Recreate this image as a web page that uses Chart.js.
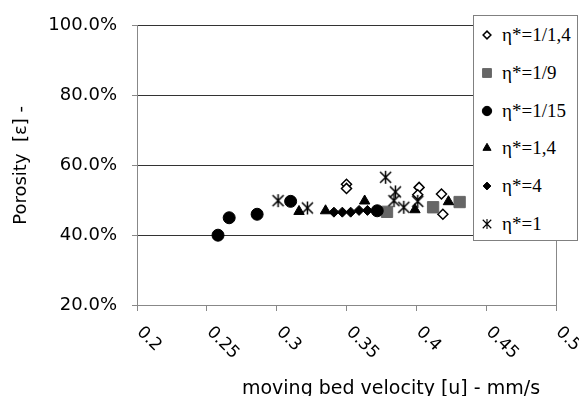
<!DOCTYPE html>
<html>
<head>
<meta charset="utf-8">
<script src="https://cdn.jsdelivr.net/npm/chart.js@4.4.1/dist/chart.umd.min.js"></script>
<style>
  html, body { margin: 0; padding: 0; background: #fff; }
  #wrap { position: relative; width: 579px; height: 396px; }
  #legend {
    position: absolute; left: 473px; top: 15px; width: 103px; height: 224px;
    border: 1px solid #808080; background: #fff; color: #000;
    font-family: "Liberation Serif", "Times New Roman", serif; font-size: 19px;
  }
  .row { position: absolute; left: 0; width: 103px; height: 22px; line-height: 22px; white-space: nowrap; }
  .row canvas { position: absolute; left: 4px; top: 2px; }
  .row span { position: absolute; left: 28px; top: 0; }
</style>
</head>
<body>
<div id="wrap">
  <canvas id="chart" width="579" height="396"></canvas>
  <div id="legend"></div>
</div>
<script>
// series names (legend) and axis texts
const seriesNames = ['η*=1/1,4', 'η*=1/9', 'η*=1/15', 'η*=1,4', 'η*=4', 'η*=1'];
const xTickLabels = ['0.2', '0.25', '0.3', '0.35', '0.4', '0.45', '0.5'];
const yTickLabels = ['20.0%', '40.0%', '60.0%', '80.0%', '100.0%'];
const xTitle = 'moving bed velocity [u] - mm/s';
const yTitle = 'Porosity  [ε] -';

// moving bed velocity u [mm/s] and porosity [%]
const velA = [0.350, 0.350, 0.402, 0.401, 0.418, 0.419];
const porA = [54.6, 53.4, 53.7, 51.6, 51.8, 46.0];
const velB = [0.379, 0.412, 0.431];
const porB = [46.7, 48.0, 49.5];
const velC = [0.258, 0.266, 0.286, 0.310, 0.372];
const porC = [40.0, 45.0, 46.0, 49.7, 47.0];
const velD = [0.316, 0.335, 0.363, 0.399, 0.423];
const porD = [46.8, 47.0, 49.8, 47.3, 49.6];
const velE = [0.341, 0.347, 0.353, 0.359, 0.365];
const porE = [46.6, 46.6, 46.6, 47.1, 47.1];
const velF = [0.301, 0.322, 0.378, 0.385, 0.384, 0.391, 0.401];
const porF = [49.9, 47.8, 56.6, 52.4, 49.9, 48.0, 49.7];

const pts = (vel, por) => vel.map((u, i) => ({ x: u, y: por[i] }));

// asterisk marker (X + vertical bar), as in the original
function makeStar(size, lw) {
  const c = document.createElement('canvas');
  c.width = size; c.height = size;
  const g = c.getContext('2d');
  const m = size / 2, r = size / 2 - 1;
  g.strokeStyle = '#000';
  g.lineWidth = lw;
  g.beginPath();
  g.moveTo(m, m - r); g.lineTo(m, m + r);
  g.moveTo(m - r * 0.85, m - r * 0.85); g.lineTo(m + r * 0.85, m + r * 0.85);
  g.moveTo(m + r * 0.85, m - r * 0.85); g.lineTo(m - r * 0.85, m + r * 0.85);
  g.stroke();
  return c;
}
const starBig = makeStar(15, 1.5);
const starSmall = makeStar(12, 1.1);

const styles = [
  { pointStyle: 'rectRot', pointRadius: 5, backgroundColor: '#fff', borderColor: '#000', borderWidth: 1.5 },
  { pointStyle: 'rect', pointRadius: 8, backgroundColor: '#666', borderColor: '#666', borderWidth: 1 },
  { pointStyle: 'circle', pointRadius: 6, backgroundColor: '#000', borderColor: '#000', borderWidth: 1 },
  { pointStyle: 'triangle', pointRadius: 6, backgroundColor: '#000', borderColor: '#000', borderWidth: 1 },
  { pointStyle: 'rectRot', pointRadius: 5, backgroundColor: '#000', borderColor: '#000', borderWidth: 1 },
  { pointStyle: starBig, pointRadius: 7, backgroundColor: '#000', borderColor: '#000', borderWidth: 1 }
];
const series = [pts(velA, porA), pts(velB, porB), pts(velC, porC), pts(velD, porD), pts(velE, porE), pts(velF, porF)];

const datasets = series.map((d, i) => Object.assign({
  label: seriesNames[i],
  data: d,
  order: 10 - i,          // later series drawn on top, like the original
  pointHoverRadius: styles[i].pointRadius
}, styles[i]));

// plot frame + rotated x labels + x title
const extras = {
  id: 'extras',
  beforeDatasetsDraw(chart) {
    const { ctx, chartArea: a } = chart;
    ctx.save();
    ctx.strokeStyle = '#888';
    ctx.lineWidth = 1;
    ctx.beginPath();
    ctx.moveTo(Math.round(a.right) + 0.5, a.top);
    ctx.lineTo(Math.round(a.right) + 0.5, a.bottom);
    ctx.stroke();
    ctx.restore();
  },
  afterDraw(chart) {
    const { ctx } = chart;
    const xs = chart.scales.x;
    ctx.save();
    ctx.fillStyle = '#000';
    ctx.font = '17px "DejaVu Sans"';
    ctx.textAlign = 'left';
    ctx.textBaseline = 'middle';
    xs.ticks.forEach((t, i) => {
      const px = xs.getPixelForTick(i);
      ctx.save();
      ctx.translate(px + 2.5, xs.top + 24.5);
      ctx.rotate(Math.PI / 4);
      ctx.fillText(xTickLabels[i], 0, 0);
      ctx.restore();
    });
    ctx.font = '19px "DejaVu Sans"';
    ctx.textAlign = 'center';
    ctx.textBaseline = 'alphabetic';
    ctx.fillText(xTitle, 391, 394);
    ctx.restore();
  }
};

const chart = new Chart(document.getElementById('chart'), {
  type: 'scatter',
  data: { datasets: datasets },
  options: {
    responsive: false,
    animation: false,
    events: [],
    layout: { padding: { top: 23, right: 23, left: 0, bottom: 0 } },
    plugins: { legend: { display: false }, tooltip: { enabled: false } },
    scales: {
      x: {
        type: 'linear', min: 0.2, max: 0.5,
        ticks: { display: false, stepSize: 0.05 },
        grid: { drawOnChartArea: false, color: '#888', tickLength: 6 },
        border: { color: '#888' },
        afterFit: s => { s.height = 91; }
      },
      y: {
        min: 20, max: 100,
        ticks: {
          stepSize: 20, padding: 15, color: '#000',
          font: { family: 'DejaVu Sans', size: 18 },
          callback: (v, i) => yTickLabels[i]
        },
        grid: {
          color: c => (c.tick && c.tick.value === 20) ? '#888' : '#333',
          tickColor: '#888', tickLength: 5
        },
        border: { color: '#888' },
        title: {
          display: true, text: yTitle, color: '#000',
          font: { family: 'DejaVu Sans', size: 18 },
          padding: { top: 11, bottom: 0 }
        },
        afterFit: s => { s.width = 137; }
      }
    }
  },
  plugins: [extras]
});

// legend box overlapping the plot, built from the datasets
const legend = document.getElementById('legend');
chart.data.datasets.forEach((ds, i) => {
  const row = document.createElement('div');
  row.className = 'row';
  row.style.top = (19 + i * 37.8 - 11) + 'px';
  const c = document.createElement('canvas');
  c.width = 18; c.height = 18;
  const g = c.getContext('2d');
  g.fillStyle = ds.backgroundColor;
  g.strokeStyle = ds.borderColor;
  g.lineWidth = ds.borderWidth;
  const ps = ds.pointStyle === starBig ? starSmall : ds.pointStyle;
  Chart.helpers.drawPoint(g, { pointStyle: ps, radius: ds.pointRadius * 0.78, borderWidth: ds.borderWidth, rotation: 0 }, 9, 9);
  const sp = document.createElement('span');
  sp.textContent = ds.label;
  row.appendChild(c);
  row.appendChild(sp);
  legend.appendChild(row);
});
</script>
</body>
</html>
